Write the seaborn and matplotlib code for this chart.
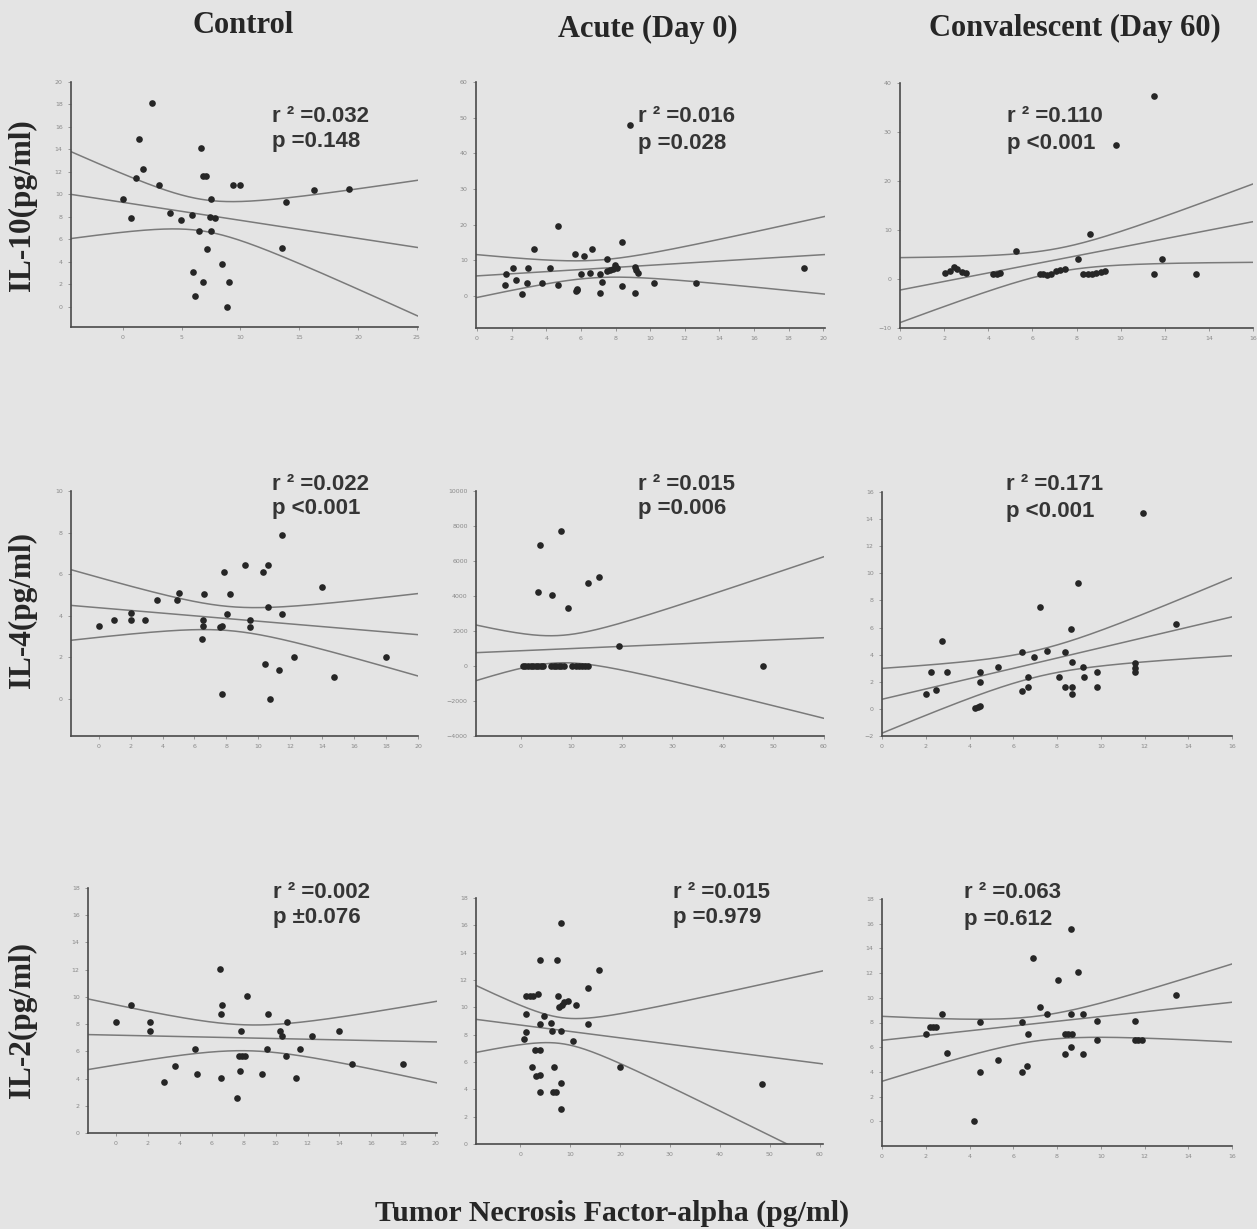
import numpy as np
import matplotlib.pyplot as plt
import seaborn as sns

# labels
groups = ['Control', 'Acute (Day 0)', 'Convalescent (Day 60)']
cytokines = ['IL-10(pg/ml)', 'IL-4(pg/ml)', 'IL-2(pg/ml)']
x_label = 'Tumor Necrosis Factor-alpha (pg/ml)'

# IL-10 vs TNF-alpha
ctrl_il10_x = [2.5, 1.35, 1.7, 1.15, 3.05, 0.0, 0.7, 4.05, 4.97, 5.85, 6.67, 6.8, 7.1, 7.5, 7.4,
               7.85, 6.45, 7.5, 7.2, 8.4, 5.96, 6.8, 9.0, 6.16, 8.85, 9.35, 10.0, 13.9, 13.5, 16.25, 19.2]
ctrl_il10_y = [18.1, 14.9, 12.3, 11.5, 10.8, 9.6, 7.9, 8.35, 7.7, 8.2, 14.1, 11.6, 11.6, 9.6, 8.0,
               7.9, 6.7, 6.7, 5.1, 3.8, 3.05, 2.2, 2.2, 1.0, 0.0, 10.8, 10.8, 9.3, 5.2, 10.4, 10.5]
acute_il10_x = [1.7, 1.63, 2.08, 2.27, 2.6, 2.92, 2.88, 3.3, 3.75, 4.23, 4.7, 4.7, 5.67, 6.2, 5.7,
                5.75, 5.8, 6.0, 6.5, 6.63, 7.08, 7.1, 7.2, 7.5, 7.5, 7.7, 7.85, 7.95, 8.1, 8.37,
                8.4, 9.1, 9.1, 9.2, 9.3, 10.25, 12.65, 18.9, 8.85]
acute_il10_y = [6.1, 3.2, 7.7, 4.4, 0.4, 7.7, 3.5, 13.1, 3.7, 7.7, 19.5, 3.0, 11.8, 11.1, 1.3,
                1.7, 2.0, 6.1, 6.5, 13.1, 0.8, 6.1, 3.9, 10.3, 6.9, 7.2, 7.5, 8.6, 7.9, 15.1,
                2.8, 0.8, 8.1, 7.2, 6.5, 3.5, 3.7, 7.7, 47.9]
conv_il10_x = [2.04, 2.27, 2.46, 2.6, 2.8, 2.98, 4.23, 4.38, 4.53, 5.26, 6.35, 6.5, 6.65, 6.85, 7.05,
               7.25, 7.5, 8.05, 8.3, 8.5, 8.7, 8.9, 9.1, 9.3, 8.6, 9.77, 11.5, 11.5, 11.86, 13.4]
conv_il10_y = [1.16, 1.57, 2.5, 2.0, 1.5, 1.16, 1.0, 1.0, 1.16, 5.8, 1.0, 1.0, 0.9, 1.1, 1.6,
               1.9, 2.0, 4.0, 1.0, 1.0, 1.1, 1.3, 1.5, 1.6, 9.1, 27.4, 37.3, 1.0, 4.1, 1.0]

# IL-4 vs TNF-alpha
ctrl_il4_x = [0.0, 0.98, 2.03, 2.03, 2.93, 3.66, 4.9, 5.06, 6.54, 6.54, 6.48, 6.62, 7.57, 7.73, 7.84,
              8.05, 8.2, 7.73, 9.15, 9.45, 9.5, 10.28, 10.6, 10.6, 10.4, 10.72, 11.29, 11.5, 11.5, 12.23,
              14.0, 14.73, 17.97]
ctrl_il4_y = [3.48, 3.77, 4.12, 3.77, 3.77, 4.73, 4.73, 5.09, 3.8, 3.48, 2.89, 5.06, 3.45, 3.48, 6.1,
              4.06, 5.06, 0.21, 6.42, 3.77, 3.45, 6.1, 6.42, 4.41, 1.69, 0.0, 1.36, 4.06, 7.87, 2.0,
              5.38, 1.04, 2.0]
acute_il4_x = [3.8, 7.9, 3.3, 6.1, 9.3, 13.25, 15.36, 19.4, 47.9,
               0.4, 0.9, 1.4, 1.9, 2.4, 2.9, 3.4, 3.9, 4.4, 6.0, 6.5, 7.0, 7.5, 8.0, 8.6,
               10.2, 10.8, 11.4, 12.0, 12.6, 13.3]
acute_il4_y = [6896, 7715, 4248, 4077, 3334, 4724, 5067, 1162, 0,
               0, 0, 0, 0, 0, 0, 0, 0, 0, 0, 0, 0, 0, 0, 0,
               0, 0, 0, 0, 0, 0]
conv_il4_x = [2.0, 2.23, 2.46, 2.72, 2.95, 4.24, 4.4, 4.5, 4.5, 4.5, 5.31, 6.41, 6.41, 6.69, 6.69,
              6.95, 7.22, 7.53, 8.09, 8.37, 8.37, 8.67, 8.63, 8.67, 8.67, 8.98, 9.2, 9.24, 9.82, 9.82,
              11.57, 11.57, 11.57, 11.95, 13.45]
conv_il4_y = [1.1, 2.75, 1.4, 5.02, 2.75, 0.05, 0.17, 0.22, 2.75, 2.0, 3.11, 4.22, 1.35, 2.33, 1.64,
              3.85, 7.52, 4.26, 2.33, 4.22, 1.64, 1.64, 5.86, 3.48, 1.08, 9.29, 3.11, 2.33, 2.75, 1.64,
              3.36, 2.99, 2.7, 14.44, 6.25]

# IL-2 vs TNF-alpha
ctrl_il2_x = [0.0, 0.98, 2.13, 2.13, 3.0, 3.7, 4.95, 5.1, 6.5, 6.68, 6.56, 6.62, 7.6, 7.77, 7.87,
              7.7, 7.9, 8.08, 8.22, 9.18, 9.48, 9.54, 10.3, 10.4, 10.7, 10.65, 11.3, 11.5, 12.25, 14.0,
              14.76, 18.0]
ctrl_il2_y = [8.14, 9.44, 8.14, 7.48, 3.73, 4.95, 6.18, 4.34, 12.08, 9.44, 8.77, 4.04, 2.57, 4.53, 7.48,
              5.64, 5.64, 5.64, 10.1, 4.36, 6.18, 8.75, 7.48, 7.16, 8.14, 5.64, 4.04, 6.2, 7.1, 7.48,
              5.1, 5.1]
acute_il2_x = [8.13, 4.0, 7.33, 15.8, 13.5, 1.2, 1.87, 2.5, 3.47, 7.47, 1.2, 4.67, 7.8, 8.33, 8.8,
               9.47, 11.2, 4.0, 6.2, 13.47, 1.2, 6.33, 8.2, 0.67, 10.5, 3.0, 3.87, 2.33, 6.67, 20.0,
               3.2, 3.87, 4.0, 6.53, 7.2, 8.2, 8.13, 48.5]
acute_il2_y = [16.2, 13.5, 13.5, 12.7, 11.4, 10.8, 10.8, 10.8, 11.0, 10.8, 9.5, 9.4, 10.0, 10.2, 10.4,
               10.5, 10.15, 8.8, 8.87, 8.8, 8.19, 8.26, 8.26, 7.65, 7.57, 6.9, 6.86, 5.64, 5.64, 5.64,
               5.0, 5.07, 3.8, 3.8, 3.8, 4.46, 2.57, 4.4]
conv_il2_x = [2.0, 2.18, 2.34, 2.49, 2.72, 2.95, 4.2, 4.5, 4.5, 5.28, 6.38, 6.38, 6.64, 6.66, 6.92,
              7.22, 7.53, 8.06, 8.37, 8.37, 8.52, 8.67, 8.64, 8.64, 8.64, 8.95, 9.2, 9.2, 9.82, 9.82,
              11.57, 11.57, 11.72, 11.9, 13.45]
conv_il2_y = [7.07, 7.64, 7.64, 7.64, 8.72, 5.53, 0.0, 8.04, 4.0, 5.0, 8.04, 4.0, 4.5, 7.07, 13.2,
              9.23, 8.72, 11.47, 5.48, 7.07, 7.07, 7.07, 15.6, 8.72, 6.02, 12.06, 8.72, 5.48, 8.1, 6.56,
              8.1, 6.56, 6.56, 6.56, 10.26]

points = [[(ctrl_il10_x, ctrl_il10_y), (acute_il10_x, acute_il10_y), (conv_il10_x, conv_il10_y)],
          [(ctrl_il4_x, ctrl_il4_y), (acute_il4_x, acute_il4_y), (conv_il4_x, conv_il4_y)],
          [(ctrl_il2_x, ctrl_il2_y), (acute_il2_x, acute_il2_y), (conv_il2_x, conv_il2_y)]]

# stats printed on each panel
r2_text = [['0.032', '0.016', '0.110'],
           ['0.022', '0.015', '0.171'],
           ['0.002', '0.015', '0.063']]
p_text = [['=0.148', '=0.028', '<0.001'],
          ['<0.001', '=0.006', '<0.001'],
          ['\u00b10.076', '=0.979', '=0.612']]

# fitted line and 95% band read at the left / right edge of each axis
fit_ends = [[(10.0, 5.27), (5.6, 11.6), (-2.25, 11.7)],
            [(4.49, 3.08), (762, 1619), (0.71, 6.79)],
            [(7.23, 6.69), (9.12, 5.86), (6.56, 9.64)]]
band_upper = [[(13.8, 11.26), (11.6, 22.3), (4.36, 19.4)],
              [(6.21, 5.06), (2343, 6248), (2.99, 9.68)],
              [(9.85, 9.68), (11.6, 12.67), (8.5, 12.74)]]
band_lower = [[(6.07, -0.83), (-0.5, 0.5), (-8.9, 3.4)],
              [(2.81, 1.09), (-838, -2991), (-1.79, 3.92)],
              [(4.66, 3.68), (6.7, -1.3), (3.24, 6.42)]]
band_narrowest = [[1.4, 2.45, 2.4],
                  [0.58, 780, 0.98],
                  [0.95, 0.95, 1.0]]

# axis limits and ticks
xlims = [[(-4.4, 25.1), (-0.06, 20.1), (0, 16)],
         [(-1.73, 20), (-8.9, 60), (0, 16)],
         [(-1.73, 20.1), (-8.9, 60.7), (0, 16)]]
ylims = [[(-1.8, 20), (-9, 60), (-10, 40)],
         [(-1.8, 10), (-4000, 10000), (-2, 16)],
         [(0, 18), (0, 18), (-2, 18)]]
xticks = [[range(0, 26, 5), range(0, 21, 2), range(0, 17, 2)],
          [range(0, 21, 2), range(0, 61, 10), range(0, 17, 2)],
          [range(0, 21, 2), range(0, 61, 10), range(0, 17, 2)]]
yticks = [[range(0, 21, 2), range(0, 61, 10), range(-10, 41, 10)],
          [range(0, 11, 2), range(-4000, 10001, 2000), range(-2, 17, 2)],
          [range(0, 19, 2), range(0, 19, 2), range(0, 19, 2)]]

# pixel boxes (left, right, top, bottom) and stat text anchors
W, H = 1257, 1229
boxes = [[(71, 418, 82, 327), (476, 825, 82, 328), (900, 1253, 83, 328)],
         [(71, 418, 491, 736), (476, 824, 491, 736), (882, 1232, 492, 736)],
         [(88, 437, 888, 1133), (476, 823, 898, 1144), (882, 1232, 899, 1146)]]
stat_pos = [[(272, 116, 141), (638, 117, 143), (1007, 117, 143)],
            [(272, 485, 509), (638, 485, 509), (1006, 485, 512)],
            [(273, 893, 918), (673, 893, 918), (964, 893, 919)]]


def band_curves(xl, xr, up, lo, w0, xs):
    wl = (up[0] - lo[0]) / 2
    wr = (up[1] - lo[1]) / 2
    ml = (up[0] + lo[0]) / 2
    mr = (up[1] + lo[1]) / 2
    q = np.sqrt((wl ** 2 - w0 ** 2) / (wr ** 2 - w0 ** 2))
    c = (xl + q * xr) / (1 + q)
    b = (wr ** 2 - w0 ** 2) / (xr - c) ** 2
    mid = ml + (mr - ml) * (xs - xl) / (xr - xl)
    hw = np.sqrt(w0 ** 2 + b * (xs - c) ** 2)
    return mid + hw, mid - hw


bg = '#e4e4e4'
sns.set_style('ticks', rc={'axes.facecolor': bg, 'figure.facecolor': bg,
                           'axes.edgecolor': '#4a4a4a'})

fig = plt.figure(figsize=(W / 100, H / 100), dpi=100)
fig.patch.set_facecolor(bg)

serif = dict(family=['Liberation Serif', 'DejaVu Serif'], weight='bold', color='#262626')
sans = dict(family=['Liberation Sans', 'DejaVu Sans'], weight='bold', color='#353535')

line_col = '#7a7a7a'
for i in range(3):
    for j in range(3):
        l, r, t, b = boxes[i][j]
        ax = fig.add_axes([l / W, 1 - b / H, (r - l) / W, (b - t) / H])
        x, y = points[i][j]
        sns.scatterplot(x=x, y=y, ax=ax, color='#262626', s=23, linewidth=0, zorder=3)

        xl, xr = xlims[i][j]
        xs = np.linspace(xl, xr, 300)
        f0, f1 = fit_ends[i][j]
        ax.plot([xl, xr], [f0, f1], color=line_col, lw=1.1)
        up, lo = band_curves(xl, xr, band_upper[i][j], band_lower[i][j],
                             band_narrowest[i][j], xs)
        ax.plot(xs, up, color=line_col, lw=1.1)
        ax.plot(xs, lo, color=line_col, lw=1.1)

        ax.set_xlim(xl, xr)
        ax.set_ylim(*ylims[i][j])
        ax.set_xticks(list(xticks[i][j]))
        ax.set_yticks(list(yticks[i][j]))
        ax.tick_params(labelsize=4.5, labelcolor='#8a8a8a', length=2, width=0.6,
                       color='#8a8a8a', pad=4)
        ax.set_xlabel('')
        ax.set_ylabel('')
        sns.despine(ax=ax)
        for s in ['left', 'bottom']:
            ax.spines[s].set_linewidth(1.2)
            ax.spines[s].set_color('#4a4a4a')

        sx, ry, py = stat_pos[i][j]
        fig.text(sx / W, 1 - ry / H, 'r \u00b2 =' + r2_text[i][j], fontsize=16,
                 va='center', ha='left', **sans)
        fig.text(sx / W, 1 - py / H, 'p ' + p_text[i][j], fontsize=16,
                 va='center', ha='left', **sans)

# column titles
for cx, base, name in zip([243, 648, 1075], [33, 37, 36], groups):
    fig.text(cx / W, 1 - base / H, name, fontsize=22, ha='center', va='baseline', **serif)

# row labels
for cy, name in zip([205, 610, 1020], cytokines):
    fig.text(22 / W, 1 - cy / H, name, fontsize=22.5, rotation=90,
             ha='center', va='center', **serif)

fig.text(612 / W, 1 - 1221 / H, x_label, fontsize=21.5, ha='center', va='baseline', **serif)

fig.savefig('out.png', dpi=100, facecolor=bg)
